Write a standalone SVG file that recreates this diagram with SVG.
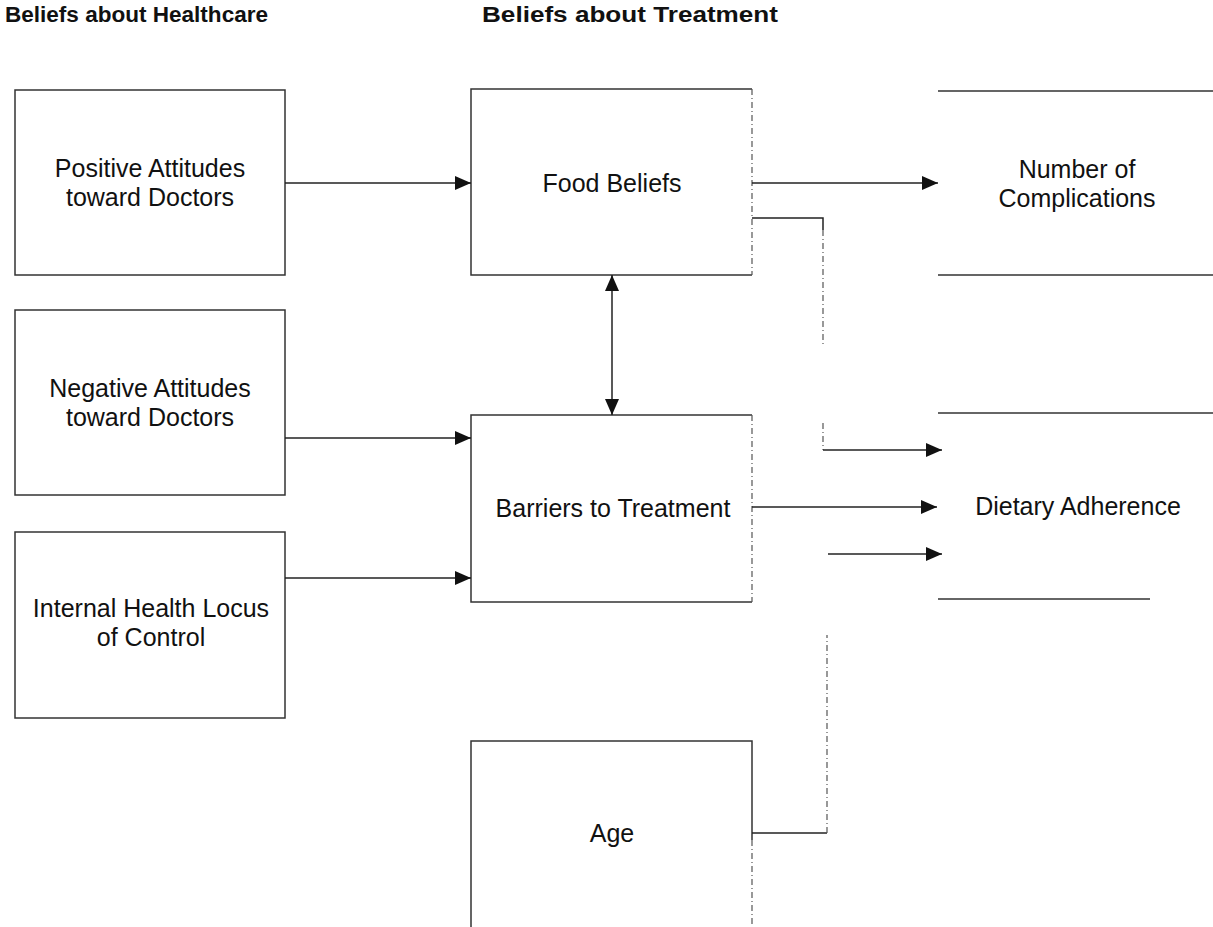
<svg xmlns="http://www.w3.org/2000/svg" width="1213" height="927" viewBox="0 0 1213 927">
<style>
.box{fill:none;stroke:#333;stroke-width:1.5}
.edge{stroke:#222;stroke-width:1.5;fill:none}
.dash{stroke:#555;stroke-width:1.2;stroke-dasharray:6 3 1 3;fill:none}
.t{font-family:"Liberation Sans",Arial,sans-serif;font-size:25px;fill:#111;text-anchor:middle}
.h{font-family:"Liberation Sans",Arial,sans-serif;font-size:22px;font-weight:bold;fill:#111}
</style>
<defs>
<marker id="ar" markerWidth="16" markerHeight="14" refX="16" refY="7" orient="auto" markerUnits="userSpaceOnUse">
<path d="M0,0 L16,7 L0,14 Z" fill="#111"/>
</marker>
<marker id="as" markerWidth="16" markerHeight="14" refX="0" refY="7" orient="auto" markerUnits="userSpaceOnUse">
<path d="M16,0 L0,7 L16,14 Z" fill="#111"/>
</marker>
</defs>
<text class="h" x="5" y="22" textLength="263" lengthAdjust="spacingAndGlyphs">Beliefs about Healthcare</text>
<text class="h" x="482" y="22" textLength="296" lengthAdjust="spacingAndGlyphs">Beliefs about Treatment</text>
<g id="pos">
<rect class="box" x="15" y="90" width="270" height="185"/>
<text class="t" x="150" y="177">Positive Attitudes</text>
<text class="t" x="150" y="206">toward Doctors</text>
</g>
<g id="neg">
<rect class="box" x="15" y="310" width="270" height="185"/>
<text class="t" x="150" y="397">Negative Attitudes</text>
<text class="t" x="150" y="426">toward Doctors</text>
</g>
<g id="ihlc">
<rect class="box" x="15" y="532" width="270" height="186"/>
<text class="t" x="151" y="617">Internal Health Locus</text>
<text class="t" x="151" y="646">of Control</text>
</g>
<g id="food">
<path class="box" d="M752,89 L471,89 L471,275 L752,275"/>
<path class="dash" d="M752,89 L752,275"/>
<text class="t" x="612" y="192">Food Beliefs</text>
</g>
<g id="barriers">
<path class="box" d="M752,415 L471,415 L471,602 L752,602"/>
<path class="dash" d="M752,415 L752,602"/>
<text class="t" x="613" y="517">Barriers to Treatment</text>
</g>
<g id="age">
<path class="box" d="M471,927 L471,741 L752,741 L752,840"/>
<path class="dash" d="M752,840 L752,927"/>
<text class="t" x="612" y="842">Age</text>
</g>
<g id="complications">
<path class="box" d="M938,91 L1213,91 M938,275 L1213,275"/>
<text class="t" x="1077" y="178">Number of</text>
<text class="t" x="1077" y="207">Complications</text>
</g>
<g id="adherence">
<path class="box" d="M938,413 L1213,413"/>
<path class="box" d="M938,599 L1150,599"/>
<text class="t" x="1078" y="515">Dietary Adherence</text>
</g>
<g id="connectors">
<line class="edge" x1="285" y1="183" x2="471" y2="183" marker-end="url(#ar)"/>
<line class="edge" x1="285" y1="438" x2="471" y2="438" marker-end="url(#ar)"/>
<line class="edge" x1="285" y1="578" x2="471" y2="578" marker-end="url(#ar)"/>
<line class="edge" x1="612" y1="275" x2="612" y2="415" marker-start="url(#as)" marker-end="url(#ar)"/>
<line class="edge" x1="752" y1="183" x2="938" y2="183" marker-end="url(#ar)"/>
<path class="edge" d="M752,218 L823,218 L823,230"/>
<path class="dash" d="M823,230 L823,345"/>
<path class="dash" d="M823,423 L823,450"/>
<line class="edge" x1="823" y1="450" x2="942" y2="450" marker-end="url(#ar)"/>
<line class="edge" x1="752" y1="507" x2="937" y2="507" marker-end="url(#ar)"/>
<line class="edge" x1="828" y1="554" x2="942" y2="554" marker-end="url(#ar)"/>
<path class="edge" d="M752,833 L827,833"/>
<path class="dash" d="M827,833 L827,635"/>
</g>
</svg>
